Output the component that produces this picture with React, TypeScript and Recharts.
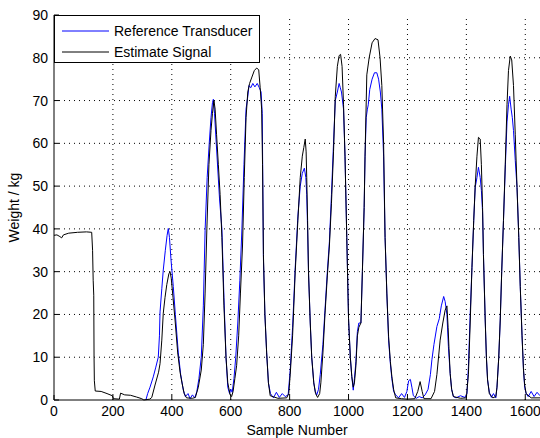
import React from "react";
import {
  Legend,
  Line,
  LineChart,
  ReferenceLine,
  XAxis,
  YAxis
} from "recharts";

// sample number / weight pairs
const refX = [312, 318, 326, 337, 345, 354, 358, 360, 366, 371, 378, 384, 388, 392, 397, 405, 412, 422, 430, 439, 446, 455, 462, 470, 478, 485, 492, 500, 507, 513, 520, 527, 533, 538, 541, 545, 550, 556, 562, 570, 577, 584, 590, 596, 600, 605, 611, 617, 624, 631, 638, 645, 652, 658, 662, 668, 675, 682, 690, 697, 703, 707, 711, 716, 722, 728, 735, 745, 755, 765, 775, 785, 795, 802, 810, 819, 828, 836, 843, 850, 855, 858, 861, 864, 870, 875, 882, 887, 892, 898, 904, 913, 920, 928, 935, 942, 949, 955, 962, 968, 972, 976, 983, 988, 994, 1000, 1006, 1011, 1016, 1020, 1025, 1030, 1035, 1042, 1047, 1053, 1056, 1060, 1064, 1067, 1072, 1080, 1088, 1096, 1102, 1108, 1113, 1119, 1124, 1130, 1136, 1142, 1147, 1153, 1160, 1170, 1180, 1190, 1198, 1204, 1210, 1215, 1220, 1230, 1240, 1250, 1260, 1270, 1278, 1283, 1290, 1300, 1308, 1315, 1323, 1328, 1334, 1339, 1345, 1350, 1356, 1365, 1380, 1395, 1402, 1407, 1413, 1419, 1425, 1430, 1436, 1441, 1447, 1451, 1455, 1458, 1464, 1468, 1472, 1478, 1485, 1492, 1500, 1504, 1510, 1515, 1520, 1526, 1532, 1538, 1543, 1547, 1552, 1556, 1560, 1566, 1572, 1578, 1583, 1589, 1594, 1598, 1603, 1610, 1620, 1630, 1640, 1650];
const refY = [0, 1.5, 3, 5.4, 7.5, 10, 15, 20.6, 26, 30.4, 35, 38.5, 40.1, 38, 33, 26.5, 20, 11, 6, 2.3, 0.8, 1.5, 0.3, 1.2, 0.5, 2, 5, 10, 22, 39.7, 52, 60, 66, 69.5, 70.3, 67, 61, 54, 47, 40, 24, 10, 3, 1.5, 2.5, 1.8, 5, 10, 18, 28, 40, 55, 68, 71, 73.5, 73, 74, 73.2, 74, 73, 72, 67, 33, 20, 11, 4, 1.5, 0.5, 1.8, 0.6, 1.5, 0.8, 1.2, 7, 17, 31, 43, 50, 53, 54.2, 52, 48, 40, 30, 18, 10, 4, 2, 1.2, 2.5, 6, 13, 21, 30, 37, 48, 60, 70, 72, 74, 73, 72, 68, 57, 38, 19, 10, 5.5, 2.3, 5, 9, 16, 18, 18, 30, 45, 57, 66, 68, 69, 72.6, 75, 76.5, 76.5, 75, 72, 68, 57, 38, 25, 14, 8.5, 5, 2, 1.2, 0.5, 1.5, 0.6, 2, 4.5, 4.8, 3, 1, 0.4, 0.8, 0.5, 1.2, 2.5, 6, 9.4, 13, 17.2, 19, 22, 24.2, 23, 20, 12.5, 6.2, 2.5, 0.8, 0.5, 1, 0.6, 1.5, 7.8, 20, 31, 42, 49.7, 52, 54.4, 52, 49, 44, 34, 18.7, 10, 4.7, 1.8, 0.6, 1.5, 0.5, 3, 10, 18.7, 30, 42, 54, 65, 69, 71, 68, 66, 63, 56, 49.7, 38, 26.5, 15, 7, 3, 1.5, 0.8, 2, 0.8, 1.8, 1];

const estX = [0, 10, 20, 26, 32, 50, 80, 110, 128, 131, 133, 135, 136, 137, 140, 160, 180, 198, 202, 222, 226, 240, 260, 280, 298, 305, 325, 332, 343, 355, 360, 366, 371, 377, 383, 390, 394, 398, 404, 411, 420, 428, 434, 442, 450, 470, 480, 490, 500, 507, 513, 519, 526, 533, 538, 543, 547, 552, 558, 564, 570, 577, 584, 590, 598, 603, 608, 614, 620, 627, 633, 640, 646, 652, 658, 664, 672, 680, 688, 695, 700, 705, 708, 711, 716, 722, 728, 734, 760, 790, 797, 802, 810, 819, 828, 836, 843, 848, 853, 856, 858, 861, 864, 870, 875, 882, 888, 895, 902, 906, 913, 920, 928, 935, 942, 949, 955, 962, 968, 973, 978, 983, 988, 994, 1000, 1006, 1011, 1016, 1020, 1025, 1030, 1035, 1042, 1047, 1053, 1056, 1062, 1070, 1080, 1090, 1100, 1107, 1113, 1119, 1124, 1130, 1136, 1142, 1147, 1153, 1160, 1180, 1200, 1225, 1235, 1243, 1250, 1256, 1280, 1292, 1300, 1311, 1320, 1328, 1334, 1338, 1341, 1345, 1350, 1356, 1380, 1400, 1407, 1413, 1419, 1425, 1430, 1436, 1441, 1447, 1451, 1455, 1458, 1464, 1468, 1472, 1478, 1490, 1500, 1504, 1510, 1515, 1520, 1526, 1532, 1538, 1543, 1549, 1554, 1560, 1566, 1572, 1578, 1583, 1589, 1594, 1598, 1603, 1620, 1650];
const estY = [38.5, 38.6, 38.2, 37.9, 38.6, 39, 39.2, 39.3, 39.2, 35, 28, 24.5, 10, 4.5, 2.1, 2, 1.5, 1, 0.3, 0.2, 1.6, 1.2, 1.1, 0.7, 0.3, 0, 0.2, 0.6, 3.5, 6.5, 8.5, 14, 20.3, 24, 27, 29.5, 30, 28.5, 24, 18.7, 11, 6.5, 4.2, 1.5, 0.5, 0.4, 0.6, 3, 7, 13, 25, 40, 55, 63, 67, 70, 68, 62, 55, 48, 38, 22, 10, 4, 1.2, 0.8, 2, 5, 8, 15, 25, 36, 52, 66, 72, 74, 75.5, 77, 77.6, 77.2, 73, 68, 55, 34, 20, 11, 4, 1, 0.4, 0.5, 1.5, 6, 15, 30, 42, 52, 57, 59, 61, 58, 52, 42, 30, 18, 10, 4, 1.5, 0.6, 1.5, 4, 11, 20, 29, 36, 46, 58, 71, 78, 80.5, 80.8, 78, 69, 57, 38, 19, 10, 5.5, 3, 4, 8, 15, 17, 18, 30, 45, 57, 76, 80, 83.5, 84.5, 84.2, 80, 73.5, 60, 38, 25, 14.8, 9, 5.5, 2.5, 0.5, 0.3, 0.2, 0.3, 2, 4.3, 2, 0.3, 0.3, 2, 6, 14, 18, 21, 22, 17, 12, 6.2, 2.5, 0.8, 0.4, 0.5, 6, 18, 31, 42, 50, 57, 61.4, 61, 55, 45, 34, 18.7, 10, 4.7, 1.5, 0.5, 0.8, 3, 10, 18.7, 30, 42, 55, 69, 77, 80.4, 79.5, 73.5, 62, 49.7, 38, 26.5, 15, 7, 3.5, 1.5, 0.5, 0.5];

const xTicks = [0, 200, 400, 600, 800, 1000, 1200, 1400, 1600];
const yTicks = [0, 10, 20, 30, 40, 50, 60, 70, 80, 90];
const seriesNames = ["Reference Transducer", "Estimate Signal"];

const refData = refX.map((x, i) => ({ x, y: refY[i] }));
const estData = estX.map((x, i) => ({ x, y: estY[i] }));

const font = '"Liberation Sans", Arial, sans-serif';
const tickStyle = { fill: "#000", fontSize: 14, fontFamily: font };

function LegendBox({ payload }: any) {
  const items = [...(payload || [])].sort(
    (a: any, b: any) => seriesNames.indexOf(a.value) - seriesNames.indexOf(b.value)
  );
  return (
    <div
      style={{
        width: 206,
        height: 48,
        boxSizing: "border-box",
        border: "1px solid #000",
        background: "#fff",
        position: "relative",
        fontFamily: font,
        fontSize: 14,
        color: "#000"
      }}
    >
      {items.map((p: any, i: number) => (
        <div
          key={p.value}
          style={{ position: "absolute", left: 7, top: 6 + i * 21, height: 18, display: "flex", alignItems: "center" }}
        >
          <svg width={48} height={18}>
            <line x1={0} y1={9} x2={47} y2={9} stroke={p.color} strokeWidth={1} />
          </svg>
          <span style={{ marginLeft: 4, whiteSpace: "nowrap" }}>{p.value}</span>
        </div>
      ))}
    </div>
  );
}

export default function App() {
  return (
    <div style={{ position: "absolute", left: 0, top: 0, background: "#fff" }}>
      <LineChart width={540} height={438} margin={{ top: 15, right: 0, bottom: 0, left: 0 }}>
        <XAxis
          dataKey="x"
          type="number"
          domain={[0, 1650]}
          ticks={xTicks}
          interval={0}
          height={38}
          allowDataOverflow
          axisLine={{ stroke: "#000" }}
          tickLine={{ stroke: "#000" }}
          tickSize={-5}
          tickMargin={11}
          tick={tickStyle}
          label={{ value: "Sample Number", position: "center", dy: 11, style: tickStyle }}
        />
        <XAxis
          xAxisId="top"
          dataKey="x"
          type="number"
          orientation="top"
          domain={[0, 1650]}
          ticks={xTicks}
          height={0}
          tick={false}
          tickSize={-5}
          axisLine={{ stroke: "#000" }}
          tickLine={{ stroke: "#000" }}
        />
        <YAxis
          type="number"
          domain={[0, 90]}
          ticks={yTicks}
          interval={0}
          width={54}
          axisLine={{ stroke: "#000" }}
          tickLine={{ stroke: "#000" }}
          tickSize={-5}
          tickMargin={11}
          tick={tickStyle}
          label={{ value: "Weight / kg", angle: -90, position: "center", dx: -13, style: tickStyle }}
        />
        {xTicks.slice(1).map((t) => (
          <ReferenceLine key={"gx" + t} x={t} stroke="#000" strokeWidth={1} strokeDasharray="1 4" />
        ))}
        {yTicks.slice(1, -1).map((t) => (
          <ReferenceLine key={"gy" + t} y={t} stroke="#000" strokeWidth={1} strokeDasharray="1 4" />
        ))}
        <Line
          data={refData}
          dataKey="y"
          name={seriesNames[0]}
          stroke="#0000ff"
          strokeWidth={1}
          dot={false}
          type="linear"
          isAnimationActive={false}
        />
        <Line
          data={estData}
          dataKey="y"
          name={seriesNames[1]}
          stroke="#000000"
          strokeWidth={1}
          dot={false}
          type="linear"
          isAnimationActive={false}
        />
        <Legend
          layout="horizontal"
          verticalAlign="middle"
          align="center"
          wrapperStyle={{ left: 54, top: 15, width: 206 }}
          content={<LegendBox />}
        />
      </LineChart>
    </div>
  );
}
